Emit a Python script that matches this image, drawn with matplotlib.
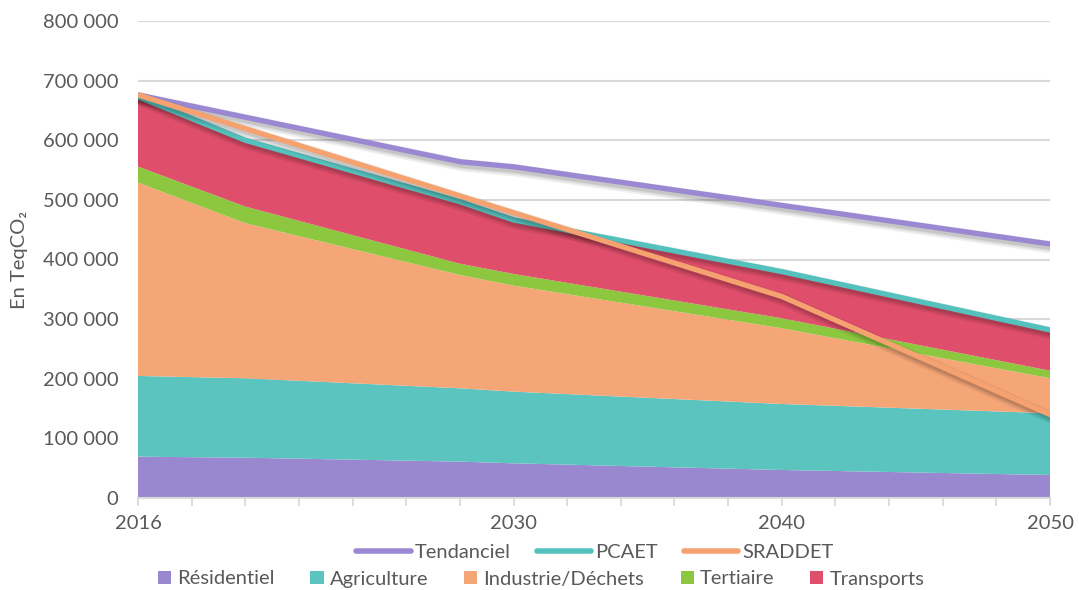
import matplotlib
matplotlib.use("Agg")
import matplotlib.pyplot as plt
import matplotlib.patheffects as pe
from matplotlib.lines import Line2D
from matplotlib.patches import Patch
import numpy as np

plt.rcParams['font.family'] = ['Lato', 'DejaVu Sans']

# ---- data ----
years = [2016, 2020, 2028, 2030, 2040, 2050]
residentiel = [69300, 67600, 61000, 58200, 47000, 38600]
agriculture = [135400, 133200, 123000, 120200, 110700, 103500]
industrie = [324300, 260100, 190000, 177800, 127000, 58700]
tertiaire = [26900, 27900, 19000, 19600, 16800, 12800]
transports = [117100, 111200, 104000, 90600, 78200, 68300]

tend_years = [2016, 2028, 2030, 2050]
tendanciel = [676000, 564000, 555500, 426000]
sraddet_years = [2016, 2030, 2040, 2050]
sraddet = [676000, 478500, 338000, 140000]

sector_names = ["Résidentiel", "Agriculture", "Industrie/Déchets", "Tertiaire", "Transports"]
sector_colors = ["#9988D0", "#5BC4BF", "#F5A677", "#8DC63F", "#DF4E6A"]
line_names = ["Tendanciel", "PCAET", "SRADDET"]
line_colors = ["#9A88D2", "#55C1BD", "#F5A270"]

xtick_years = list(range(2016, 2051, 2))
xlabel_years = [2016, 2030, 2040, 2050]
yticks = list(range(0, 800001, 100000))

# ---- figure ----
fig = plt.figure(figsize=(10.79, 5.90), dpi=100)
ax = fig.add_axes([138/1079, 1-498/590, (1050-138)/1079, (498-21)/590])

gray = "#595959"
fs = 14.5

ax.stackplot(years, residentiel, agriculture, industrie, tertiaire, transports,
             colors=sector_colors, linewidth=0, zorder=2)

pcaet = np.sum([residentiel, agriculture, industrie, tertiaire, transports], axis=0)

shadow = [pe.SimpleLineShadow(offset=(1.5, -2.5), shadow_color='black', alpha=0.06, linewidth=9),
          pe.SimpleLineShadow(offset=(1.5, -2.5), shadow_color='black', alpha=0.08, linewidth=6.5),
          pe.SimpleLineShadow(offset=(1.5, -2.5), shadow_color='black', alpha=0.10, linewidth=4),
          pe.Normal()]
ax.plot(tend_years, tendanciel, color=line_colors[0], lw=3.8, solid_capstyle='round',
        path_effects=shadow, zorder=4)
ax.plot(years, pcaet, color=line_colors[1], lw=3.8, solid_capstyle='round',
        path_effects=shadow, zorder=4)
ax.plot(sraddet_years, sraddet, color=line_colors[2], lw=3.8, solid_capstyle='round',
        path_effects=shadow, zorder=5)

ax.set_xlim(2016, 2050)
ax.set_ylim(0, 800000)
ax.set_yticks(yticks)
ax.set_yticklabels([f"{v:,}".replace(",", " ") for v in yticks], color=gray, fontsize=fs)
ax.set_xticks(xtick_years)
ax.set_xticklabels([str(y) if y in xlabel_years else "" for y in xtick_years],
                   color=gray, fontsize=fs)
ax.tick_params(axis='y', length=0, pad=14)
ax.tick_params(axis='x', length=6, width=1.3, color="#D9D9D9", pad=6, direction='out')
ax.grid(axis='y', color="#D9D9D9", lw=1.5, zorder=0)
ax.set_axisbelow(True)
for s in ['left', 'right', 'top']:
    ax.spines[s].set_visible(False)
ax.spines['bottom'].set_color("#D9D9D9")
ax.spines['bottom'].set_linewidth(1.5)
ax.spines['bottom'].set_zorder(6)

ax.set_ylabel("En TeqCO₂", color=gray, fontsize=fs)
ax.yaxis.set_label_coords(-110/912, 0.5)

# legends
lh = [Line2D([0], [0], color=c, lw=4, solid_capstyle='round') for c in line_colors]
leg1 = fig.legend(lh, line_names, loc='center', bbox_to_anchor=(595/1079, 1-552/590),
                  ncol=3, frameon=False, fontsize=fs, handlelength=2.7,
                  handletextpad=0.2, columnspacing=1.3, borderpad=0, labelcolor=gray)
ph = [Patch(facecolor=c, edgecolor='none') for c in sector_colors]
leg2 = fig.legend(ph, sector_names, loc='center', bbox_to_anchor=(541/1079, 1-579/590),
                  ncol=5, frameon=False, fontsize=fs, handlelength=0.65, handleheight=0.65,
                  handletextpad=0.3, columnspacing=1.8, borderpad=0, labelcolor=gray)

fig.savefig("out.png", dpi=100)
